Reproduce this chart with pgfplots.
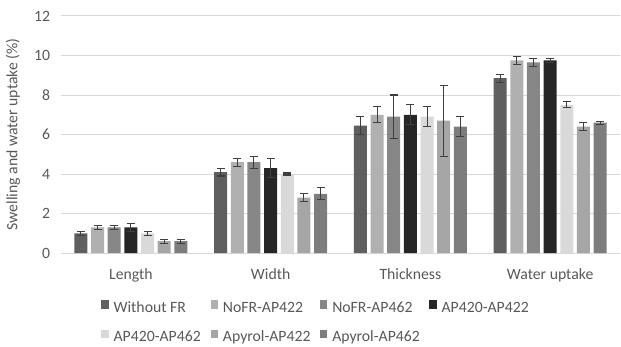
\documentclass[border=0pt]{standalone}
\usepackage{pgfplots}
\pgfplotsset{compat=1.18}
\usepackage{fontspec}
\setmainfont{Carlito}

\definecolor{txt}{HTML}{595959}
\definecolor{gridc}{HTML}{D9D9D9}
\definecolor{errc}{HTML}{3F3F3F}
\definecolor{cA}{HTML}{5F5F5F}
\definecolor{cB}{HTML}{B0B0B0}
\definecolor{cC}{HTML}{878787}
\definecolor{cD}{HTML}{262626}
\definecolor{cE}{HTML}{D9D9D9}
\definecolor{cF}{HTML}{A6A6A6}
\definecolor{cG}{HTML}{7D7D7D}

% fixed-width legend text cells, so every column has the same pitch
\newcommand{\lent}[1]{\makebox[76.5pt][l]{\hspace{3.75pt}#1}}

\begin{document}
\begin{tikzpicture}
\begin{axis}[
  scale only axis,
  width=419.25pt, height=177.75pt,
  ybar=2.75pt, bar width=9.75pt,
  xmin=-0.5, xmax=3.5,
  ymin=0, ymax=12, ytick={0,2,...,12},
  xtick={0,1,2,3},
  xticklabels={Length,Width,Thickness,Water uptake},
  major tick length=0pt,
  axis line style={draw=none},
  ymajorgrids, grid style={gridc, line width=0.75pt},
  font=\fontsize{11.8}{14}\selectfont,
  tick label style={text=txt},
  xticklabel style={anchor=base, yshift=-19.5pt},
  yticklabel style={xshift=-4.6pt},
  /pgf/number format/assume math mode=true,
  ylabel={Swelling and water uptake (\%)},
  every axis y label/.style={at={(axis description cs:0,0.5)}, xshift=-36pt,
    rotate=90, anchor=center, text=txt},
  legend columns=4,
  legend style={at={(0.0716,-0.1983)}, anchor=north west, draw=none, inner sep=0pt,
    font=\fontsize{11.8}{14}\selectfont, text=txt,
    nodes={inner sep=0pt, text height=9pt, text depth=3pt},
    column sep=0pt, row sep=9.75pt},
  legend image code/.code={\fill[#1] (0pt,0pt) rectangle (5.5pt,6.2pt);},
  error bars/y dir=both, error bars/y explicit,
  error bars/error bar style={errc, line width=0.8pt},
  error bars/error mark options={rotate=90, errc, mark size=3pt, line width=0.8pt},
]
\addplot[fill=cA, draw=none] coordinates {(0,1.0) +- (0,0.1) (1,4.1) +- (0,0.2) (2,6.45) +- (0,0.45) (3,8.85) +- (0,0.2)};
\addlegendentry{\lent{Without FR}}
\addplot[fill=cB, draw=none] coordinates {(0,1.3) +- (0,0.1) (1,4.6) +- (0,0.2) (2,7.0) +- (0,0.4) (3,9.75) +- (0,0.2)};
\addlegendentry{\lent{NoFR-AP422}}
\addplot[fill=cC, draw=none] coordinates {(0,1.3) +- (0,0.1) (1,4.6) +- (0,0.3) (2,6.9) +- (0,1.1) (3,9.65) +- (0,0.2)};
\addlegendentry{\lent{NoFR-AP462}}
\addplot[fill=cD, draw=none] coordinates {(0,1.3) +- (0,0.2) (1,4.3) +- (0,0.5) (2,7.0) +- (0,0.5) (3,9.75) +- (0,0.1)};
\addlegendentry{\lent{AP420-AP422}}
\addplot[fill=cE, draw=none] coordinates {(0,1.0) +- (0,0.1) (1,4.0) +- (0,0.05) (2,6.9) +- (0,0.5) (3,7.5) +- (0,0.15)};
\addlegendentry{\lent{AP420-AP462}}
\addplot[fill=cF, draw=none] coordinates {(0,0.6) +- (0,0.1) (1,2.8) +- (0,0.2) (2,6.7) +- (0,1.8) (3,6.4) +- (0,0.2)};
\addlegendentry{\lent{Apyrol-AP422}}
\addplot[fill=cG, draw=none] coordinates {(0,0.6) +- (0,0.1) (1,3.0) +- (0,0.3) (2,6.4) +- (0,0.5) (3,6.6) +- (0,0.07)};
\addlegendentry{\lent{Apyrol-AP462}}
\end{axis}
% page frame: the margins around the plot area
\pgfresetboundingbox
\path ([xshift=-45.75pt, yshift=-69.75pt]current axis.south west)
  rectangle ([xshift=0.75pt, yshift=12pt]current axis.north east);
\end{tikzpicture}
\end{document}
